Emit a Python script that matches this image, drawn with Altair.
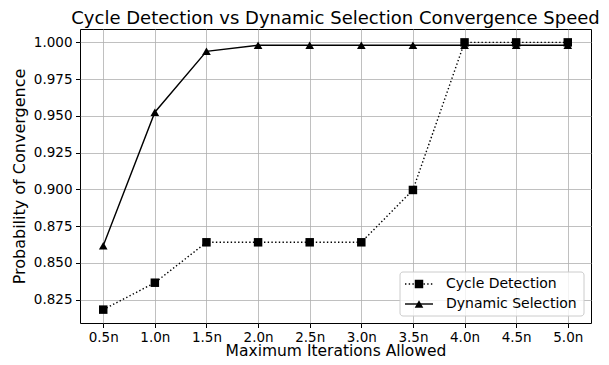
import altair as alt
import pandas as pd

iterations = [0.5, 1.0, 1.5, 2.0, 2.5, 3.0, 3.5, 4.0, 4.5, 5.0]
cycle_detection = [0.8182, 0.8365, 0.864, 0.864, 0.864, 0.864, 0.8996, 1.0, 1.0, 1.0]
dynamic_selection = [0.8616, 0.9525, 0.9939, 0.998, 0.998, 0.998, 0.998, 0.998, 0.998, 0.998]
y_ticks = [0.825, 0.850, 0.875, 0.900, 0.925, 0.950, 0.975, 1.000]

FONT = "DejaVu Sans"

df_c = pd.DataFrame({"x": iterations, "y": cycle_detection})
df_d = pd.DataFrame({"x": iterations, "y": dynamic_selection})

xs = alt.Scale(domain=[0.275, 5.225], nice=False, zero=False)
ys = alt.Scale(domain=[0.8091, 1.0091], nice=False, zero=False)

x_enc = alt.X("x:Q", scale=xs, axis=alt.Axis(
    values=iterations, labelExpr="format(datum.value, '.1f') + 'n'", labelPadding=3,
    title="Maximum Iterations Allowed", titleBaseline="alphabetic", titleY=32.5, titleFontSize=15.5))
y_enc = alt.Y("y:Q", scale=ys, axis=alt.Axis(
    values=y_ticks, format=".3f", title="Probability of Convergence"))

SQ = 72
TRI = 75

dyn_line = alt.Chart(df_d).mark_line(color="black", strokeWidth=1.4).encode(x=x_enc, y=y_enc)
dyn_pts = alt.Chart(df_d).mark_point(shape="triangle-up", filled=True, color="black", size=TRI, opacity=1).encode(x=x_enc, y=y_enc)
cyc_line = alt.Chart(df_c).mark_line(color="black", strokeWidth=1.4, strokeDash=[1.4, 2.3]).encode(x=x_enc, y=y_enc)
cyc_pts = alt.Chart(df_c).mark_point(shape="square", filled=True, color="black", size=SQ, opacity=1).encode(x=x_enc, y=y_enc)

one = pd.DataFrame({"a": [0]})
leg_box = alt.Chart(one).mark_rect(fill="white", fillOpacity=0.8, stroke="#cccccc", strokeWidth=1, cornerRadius=3).encode(
    x=alt.value(320), x2=alt.value(504), y=alt.value(243), y2=alt.value(287))
leg_l1 = alt.Chart(one).mark_rule(color="black", strokeWidth=1.4, strokeDash=[1.4, 2.3]).encode(
    x=alt.value(325), x2=alt.value(353), y=alt.value(255))
leg_p1 = alt.Chart(one).mark_point(shape="square", filled=True, color="black", size=SQ, opacity=1).encode(
    x=alt.value(339), y=alt.value(255))
leg_t1 = alt.Chart(one).mark_text(text="Cycle Detection", align="left", baseline="middle", font=FONT, fontSize=14, color="black").encode(
    x=alt.value(366), y=alt.value(255))
leg_l2 = alt.Chart(one).mark_rule(color="black", strokeWidth=1.4).encode(
    x=alt.value(325), x2=alt.value(353), y=alt.value(275))
leg_p2 = alt.Chart(one).mark_point(shape="triangle-up", filled=True, color="black", size=TRI, opacity=1).encode(
    x=alt.value(339), y=alt.value(275))
leg_t2 = alt.Chart(one).mark_text(text="Dynamic Selection", align="left", baseline="middle", font=FONT, fontSize=14, color="black").encode(
    x=alt.value(366), y=alt.value(275))

chart = alt.layer(
    cyc_line, dyn_line, cyc_pts, dyn_pts,
    leg_box, leg_l1, leg_p1, leg_t1, leg_l2, leg_p2, leg_t2
).properties(
    width=511, height=294,
    title=alt.TitleParams("Cycle Detection vs Dynamic Selection Convergence Speed",
                          font=FONT, fontSize=18, fontWeight="normal", color="black", offset=1),
    autosize=alt.AutoSizeParams(type="none"),
    padding={"left": 72, "top": 21, "right": 10, "bottom": 34},
).configure_view(
    stroke="black", strokeWidth=1
).configure_axis(
    grid=True, gridColor="#b0b0b0", gridWidth=0.8, domain=False,
    tickColor="black", tickSize=4.5, tickWidth=1,
    labelFont=FONT, labelFontSize=13.5, labelColor="black", labelPadding=3.5,
    titleFont=FONT, titleFontSize=16, titleFontWeight="normal", titleColor="black",
).configure_axisY(titlePadding=6)

chart.save("out.html", embed_options={"renderer": "svg", "actions": False})
